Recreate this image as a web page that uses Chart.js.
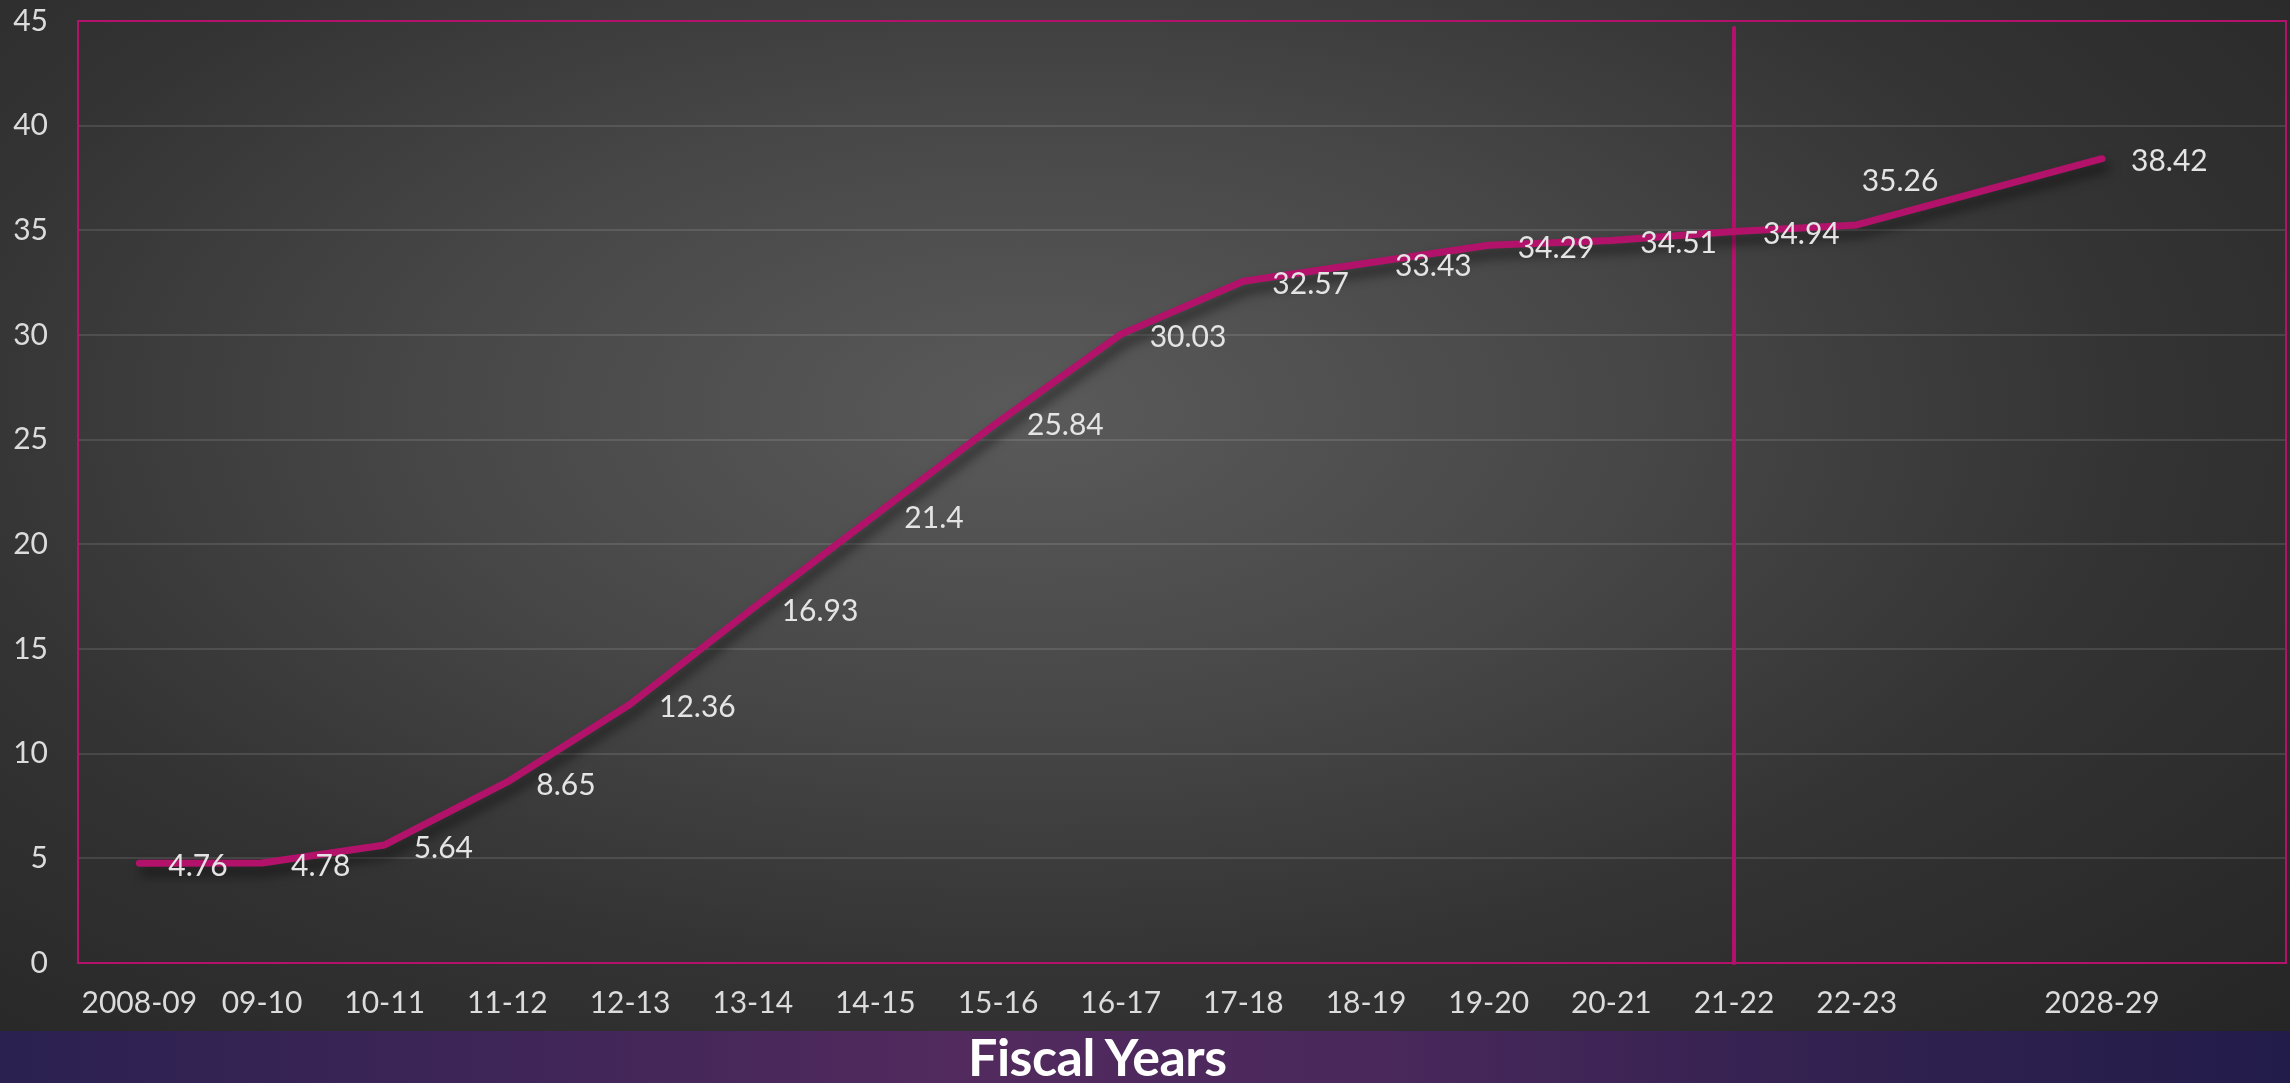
<!DOCTYPE html>
<html>
<head>
<meta charset="utf-8">
<script src="https://cdn.jsdelivr.net/npm/chart.js@4.4.1/dist/chart.umd.min.js"></script>
<style>
  html, body { margin: 0; padding: 0; }
  body { width: 2290px; height: 1083px; overflow: hidden; background: #262626; font-family: Lato, "Open Sans", sans-serif; }
  .stage {
    position: relative; width: 2290px; height: 1031px;
    background: radial-gradient(ellipse 75% 85% at 45% 40%, #5a5a5a 0%, #474747 35%, #333333 65%, #262626 100%);
  }
  .band {
    position: relative; width: 2290px; height: 52px;
    background: linear-gradient(to right, #2a2150 0%, #3d2557 20%, #522a5e 42%, #4a285c 60%, #30214f 82%, #221c4a 100%);
  }
  .band span {
    position: absolute; left: 968px; top: -6px;
    color: #ffffff; font-weight: bold; font-size: 52px; letter-spacing: -0.5px;
  }
</style>
</head>
<body>
<div class="stage"><canvas id="sharesChart"></canvas></div>
<div class="band"><span>Fiscal Years</span></div>

<script>
// Data
const fiscalYears = ['2008-09', '09-10', '10-11', '11-12', '12-13', '13-14', '14-15', '15-16',
  '16-17', '17-18', '18-19', '19-20', '20-21', '21-22', '22-23', '', '2028-29', ''];
const shareValues = [4.76, 4.78, 5.64, 8.65, 12.36, 16.93, 21.4, 25.84,
  30.03, 32.57, 33.43, 34.29, 34.51, 34.94, 35.26, null, 38.42, null];
const yMin = 0;
const yMax = 45;
const yStep = 5;
const dividerYear = '21-22';   // vertical marker
const raisedLabelYear = '22-23'; // this label sits above its point

const pink = '#b3126a';
const textGrey = '#dcdcdc';

// Frame, divider line, shadow and value labels
const decorPlugin = {
  id: 'decor',
  beforeDatasetsDraw(chart) {
    const { ctx, chartArea, scales } = chart;
    const x = scales.x.getPixelForValue(fiscalYears.indexOf(dividerYear));
    ctx.save();
    ctx.strokeStyle = pink;
    ctx.lineWidth = 4;
    ctx.lineCap = 'round';
    ctx.beginPath();
    ctx.moveTo(x, chartArea.top + 7);
    ctx.lineTo(x, chartArea.bottom);
    ctx.stroke();
    ctx.restore();
  },
  beforeDatasetDraw(chart) {
    const ctx = chart.ctx;
    ctx.save();
    ctx.shadowColor = 'rgba(0, 0, 0, 0.6)';
    ctx.shadowBlur = 12;
    ctx.shadowOffsetX = 4;
    ctx.shadowOffsetY = 8;
  },
  afterDatasetDraw(chart) {
    chart.ctx.restore();
  },
  afterDatasetsDraw(chart) {
    const { ctx } = chart;
    const meta = chart.getDatasetMeta(0);
    ctx.save();
    ctx.fillStyle = '#e4e4e4';
    ctx.font = '30px Lato, "Open Sans", sans-serif';
    ctx.textAlign = 'left';
    ctx.textBaseline = 'middle';
    meta.data.forEach((pt, i) => {
      const v = shareValues[i];
      if (v === null) return;
      if (fiscalYears[i] === raisedLabelYear) {
        ctx.fillText(String(v), pt.x + 5, pt.y - 44);
      } else {
        ctx.fillText(String(v), pt.x + 29, pt.y + 3);
      }
    });
    ctx.restore();
  },
  afterDraw(chart) {
    const { ctx, chartArea } = chart;
    ctx.save();
    ctx.strokeStyle = pink;
    ctx.lineWidth = 2;
    ctx.strokeRect(chartArea.left, chartArea.top, chartArea.right - chartArea.left, chartArea.bottom - chartArea.top);
    ctx.restore();
  }
};

const ctx = document.getElementById('sharesChart');
new Chart(ctx, {
  type: 'line',
  data: {
    labels: fiscalYears,
    datasets: [{
      data: shareValues,
      borderColor: pink,
      borderWidth: 7,
      borderCapStyle: 'round',
      borderJoinStyle: 'round',
      pointRadius: 0,
      pointHoverRadius: 0,
      tension: 0,
      spanGaps: true,
      fill: false
    }]
  },
  options: {
    responsive: true,
    maintainAspectRatio: false,
    animation: false,
    layout: { padding: { top: 21, right: 4, left: 0, bottom: 0 } },
    plugins: {
      legend: { display: false },
      tooltip: { enabled: false }
    },
    scales: {
      x: {
        offset: true,
        grid: { display: false, drawTicks: false },
        border: { display: false },
        ticks: {
          color: textGrey,
          font: { family: 'Lato, "Open Sans", sans-serif', size: 30 },
          padding: 22,
          autoSkip: false,
          maxRotation: 0
        },
        afterFit(scale) { scale.height = 68; }
      },
      y: {
        min: yMin,
        max: yMax,
        grid: { color: 'rgba(255, 255, 255, 0.11)', lineWidth: 2, drawTicks: false },
        border: { display: false },
        ticks: {
          stepSize: yStep,
          color: textGrey,
          font: { family: 'Lato, "Open Sans", sans-serif', size: 30 },
          padding: 30
        },
        afterFit(scale) {
          scale.width = 78;
          scale.paddingTop = 0;
          scale.paddingBottom = 0;
        }
      }
    }
  },
  plugins: [decorPlugin]
});
</script>
</body>
</html>
